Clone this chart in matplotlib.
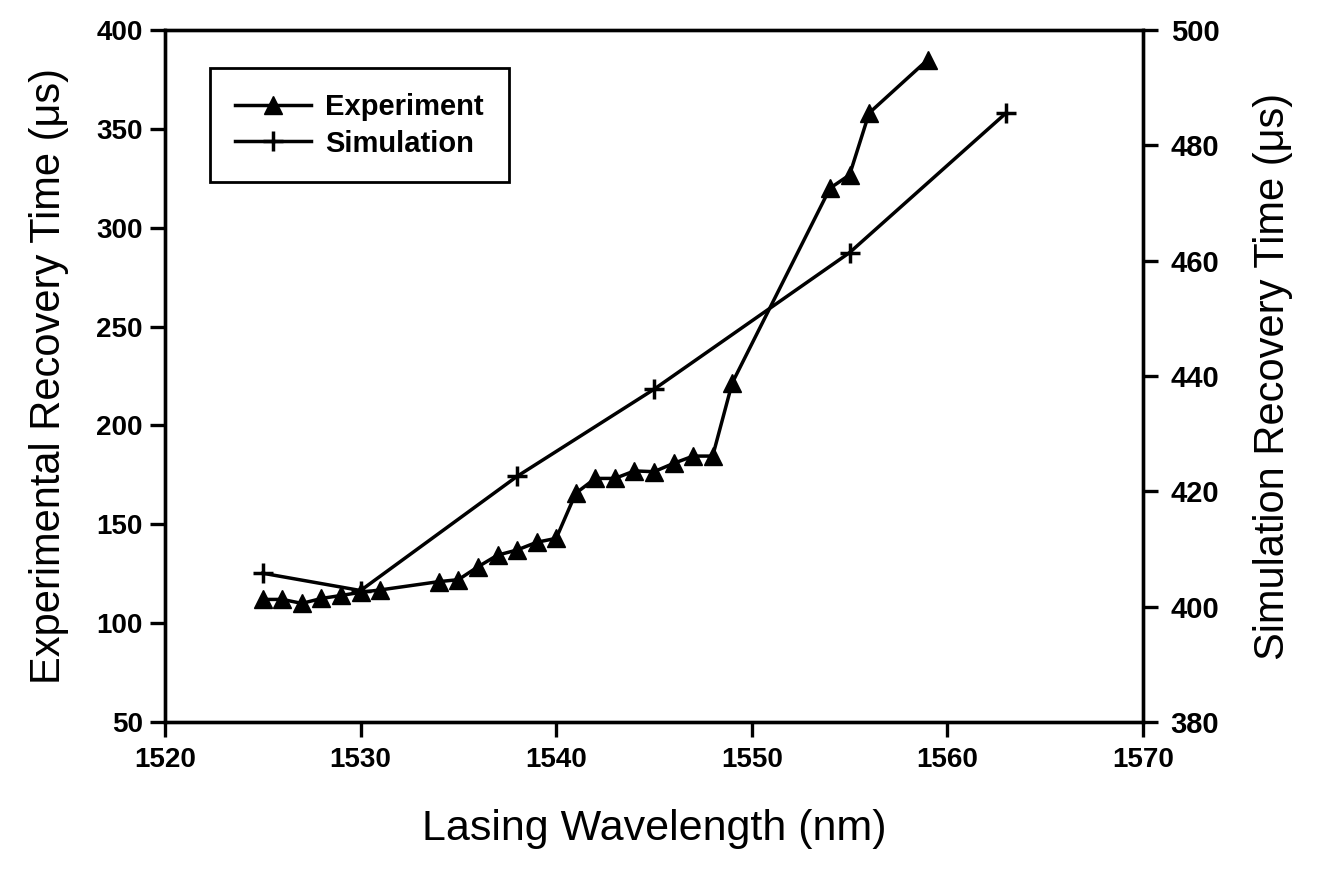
import matplotlib
matplotlib.use("Agg")
import matplotlib.pyplot as plt

plt.rcParams['font.family'] = ['Liberation Sans', 'DejaVu Sans']

# Measured recovery times versus lasing wavelength
exp_wavelength = [1525, 1526, 1527, 1528, 1529, 1530, 1531,
                  1534, 1535, 1536, 1537, 1538, 1539, 1540, 1541, 1542,
                  1543, 1544, 1545, 1546, 1547, 1548, 1549,
                  1554, 1555, 1556, 1559]
exp_time = [112, 112, 110, 112.5, 114, 115.6, 116.8,
            121, 122, 128.5, 134.4, 137, 140.9, 142.9, 165.7, 173.2,
            173.2, 177, 176.6, 180.8, 184.5, 184.5, 221.5,
            320, 326.7, 358, 385]

# Simulated recovery times
sim_wavelength = [1525, 1530, 1538, 1545, 1555, 1563]
sim_time = [405.8, 402.8, 422.6, 437.7, 461.4, 485.6]

x_ticks = [1520, 1530, 1540, 1550, 1560, 1570]
left_ticks = [50, 100, 150, 200, 250, 300, 350, 400]
right_ticks = [380, 400, 420, 440, 460, 480, 500]

fig = plt.figure(figsize=(13.18, 8.72), dpi=100)
ax = fig.add_axes([0.1252, 0.172, 0.742, 0.7936])
ax2 = ax.twinx()

lw = 2.5
h1, = ax.plot(exp_wavelength, exp_time, color='black', lw=lw,
              marker='^', markersize=13, label='Experiment', zorder=3)
h2, = ax2.plot(sim_wavelength, sim_time, color='black', lw=lw,
               marker='+', markersize=14, markeredgewidth=2.5,
               label='Simulation', zorder=3)

ax.set_xlim(1520, 1570)
ax.set_ylim(50, 400)
ax2.set_ylim(380, 500)
ax.set_xticks(x_ticks)
ax.set_yticks(left_ticks)
ax2.set_yticks(right_ticks)

for a in (ax, ax2):
    for s in a.spines.values():
        s.set_linewidth(2.4)
    a.tick_params(axis='both', direction='out', length=11, width=2.4,
                  labelsize=20, pad=5)
for lab in ax.get_xticklabels() + ax.get_yticklabels() + ax2.get_yticklabels():
    lab.set_fontweight('bold')
ax.tick_params(axis='x', pad=7)
ax2.tick_params(axis='y', pad=9, labelsize=21)

ax.set_xlabel('Lasing Wavelength (nm)', fontsize=31, labelpad=26)
ax.set_ylabel('Experimental Recovery Time (\u03bcs)', fontsize=30, labelpad=20)
ax2.set_ylabel('Simulation Recovery Time (\u03bcs)', fontsize=30, labelpad=24)

leg = ax.legend(handles=[h1, h2], loc='upper left',
                bbox_to_anchor=(0.046, 0.945), fontsize=21,
                frameon=True, fancybox=False, framealpha=1,
                edgecolor='black', handlelength=2.6, borderpad=0.85,
                labelspacing=0.3, handletextpad=0.5, borderaxespad=0)
leg.get_frame().set_linewidth(2.0)
for t in leg.get_texts():
    t.set_fontweight('bold')

fig.savefig('out.png', dpi=100, facecolor='white')
